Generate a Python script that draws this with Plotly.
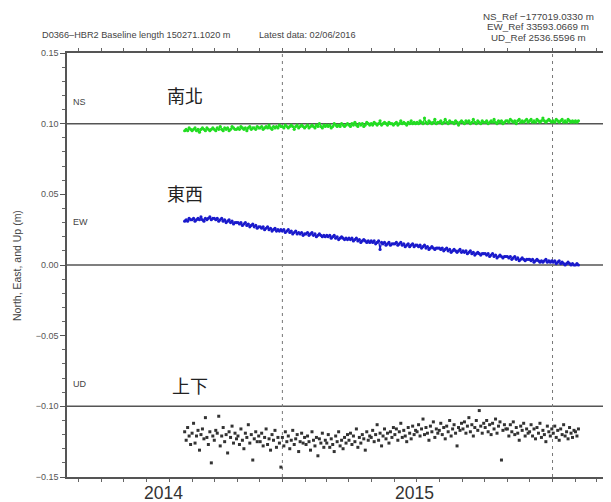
import pandas as pd
import plotly.graph_objects as go

# ---------------- data (values in millimetres) ----------------
start_date = "2014-08-22"          # first daily solution (every 2nd day shown)
latest_date = "02/06/2016"

ns_mm = [
    95, 96, 95, 97, 96,
    95, 96, 97, 95, 96, 94, 96, 97, 96, 95, 97, 96, 95, 96, 97,
    96, 95, 97, 96, 98, 96, 95, 97, 96, 97, 95, 96, 98, 97, 96, 96,
    97, 96, 98, 97, 96, 97, 95, 97, 98, 96, 97, 97, 96, 98, 97,
    97, 98, 96, 97, 98, 97, 99, 97, 96, 98, 97, 98, 97, 99, 98,
    98, 97, 99, 98, 97, 98, 99, 98, 96, 98, 99, 97, 98, 99, 98, 97,
    98, 99, 97, 98, 99, 98, 97, 99, 98, 100, 98, 97, 99, 98,
    99, 98, 99, 97, 98, 100, 99, 98, 99, 98, 100, 99, 98, 99, 100,
    99, 98, 100, 99, 101, 99, 98, 100, 99, 100, 98, 99, 101, 100, 99,
    100, 99, 101, 100, 99, 100, 102, 99, 100, 101, 100, 99, 101, 100, 100, 99,
    100, 101, 99, 100, 102, 100, 101, 100, 99, 101, 100, 102, 100, 101, 100,
    101, 100, 102, 101, 100, 104, 101, 100, 102, 101, 100, 101, 103, 100, 101,
    101, 102, 100, 101, 103, 101, 100, 102, 101, 101, 100, 102, 101, 99, 101, 102,
    101, 100, 102, 101, 102, 100, 101, 103, 101, 100, 102, 101, 100, 102, 101,
    101, 102, 100, 101, 102, 101, 103, 101, 100, 102, 101, 102, 100, 101, 102,
    102, 101, 103, 102, 101, 102, 100, 102, 103, 101, 102, 101, 102, 103, 101,
    102, 103, 101, 102, 101, 103, 102, 101, 102, 104, 102, 101, 102, 103, 102, 101,
    102, 101, 103, 102, 101, 102, 103, 101, 102, 101, 103, 102, 101, 102, 101,
    102, 101, 102,
]

ew_mm = [
    31, 32, 31, 33, 32,
    32, 33, 31, 32, 33, 32, 34, 32, 31, 33, 32, 33, 34, 32, 33,
    33, 32, 33, 31, 32, 33, 31, 32, 30, 31, 32, 30, 31, 29, 30, 30,
    30, 29, 30, 28, 29, 30, 28, 29, 27, 28, 29, 27, 28, 26, 27,
    27, 26, 27, 25, 26, 27, 25, 26, 24, 25, 26, 24, 25, 24, 25,
    24, 25, 23, 24, 25, 23, 24, 22, 23, 24, 22, 23, 22, 23, 21, 22,
    22, 23, 21, 22, 23, 21, 22, 20, 21, 22, 21, 20, 21, 20,
    21, 20, 21, 19, 20, 21, 19, 20, 18, 19, 20, 19, 18, 19, 18,
    19, 18, 19, 17, 18, 19, 17, 18, 16, 17, 18, 17, 16, 17, 16,
    17, 16, 17, 15, 16, 17, 11, 16, 15, 16, 14, 15, 16, 14, 15, 15,
    15, 16, 14, 15, 16, 14, 15, 13, 14, 15, 13, 14, 15, 13, 14,
    14, 13, 14, 12, 13, 14, 12, 13, 11, 12, 13, 12, 11, 12, 12,
    12, 11, 12, 10, 11, 12, 10, 11, 9, 10, 11, 10, 9, 10, 11, 9,
    10, 9, 10, 8, 9, 10, 8, 9, 7, 8, 9, 8, 7, 8, 8,
    8, 7, 8, 6, 7, 8, 6, 7, 5, 6, 7, 6, 5, 6, 6,
    6, 5, 6, 4, 5, 6, 4, 5, 3, 4, 5, 4, 3, 4, 4,
    4, 3, 4, 2, 3, 4, 3, 2, 3, 2, 3, 4, 2, 3, 2, 3,
    2, 3, 1, 2, 3, 1, 2, 1, 0, 1, 2, 1, 0, 1, 0,
    0, 1, 0,
]

ud_mm = [
    -118, -124, -115, -121, -127,
    -119, -112, -126, -121, -117, -131, -120, -116, -123, -108, -122, -127, -118, -140, -121,
    -124, -117, -119, -107, -128, -121, -115, -125, -120, -133, -118, -122, -114, -126, -119, -123,
    -121, -127, -116, -124, -130, -119, -122, -113, -126, -120, -138, -123, -118, -125, -121,
    -125, -119, -128, -122, -116, -127, -123, -131, -120, -124, -117, -129, -122, -126, -143,
    -122, -128, -118, -125, -121, -130, -124, -117, -127, -123, -120, -132, -125, -119, -126, -122,
    -127, -121, -125, -131, -118, -124, -128, -122, -135, -123, -126, -119, -129, -124,
    -126, -120, -129, -123, -127, -132, -121, -125, -118, -128, -124, -130, -122, -126, -120,
    -124, -119, -127, -121, -125, -116, -129, -122, -126, -120, -123, -131, -118, -124, -121,
    -122, -117, -125, -120, -113, -124, -119, -128, -121, -116, -123, -119, -126, -118, -122, -115,
    -120, -116, -124, -118, -112, -122, -117, -121, -125, -115, -119, -123, -114, -120, -117,
    -118, -113, -121, -116, -109, -120, -115, -119, -124, -114, -118, -111, -122, -116, -119,
    -117, -112, -120, -115, -123, -114, -118, -110, -121, -116, -113, -119, -128, -115, -117, -112,
    -116, -111, -119, -114, -108, -118, -113, -121, -115, -110, -117, -103, -114, -119, -112,
    -115, -110, -118, -113, -120, -112, -116, -109, -119, -114, -111, -138, -117, -113, -116,
    -116, -121, -113, -118, -111, -120, -115, -119, -124, -114, -117, -112, -121, -116, -119,
    -118, -113, -121, -116, -123, -115, -119, -112, -122, -117, -120, -125, -114, -118, -121, -116,
    -119, -114, -122, -117, -124, -116, -120, -113, -121, -118, -123, -115, -119, -122, -117,
    -118, -121, -116,
]

ref_lines = [0.10, 0.00, -0.10]
year_marks = ["2015-01-01", "2016-01-01"]
year_labels = ["2014", "2015"]
year_label_pos = ["2014-07-24", "2015-06-28"]
y_ticks = [0.15, 0.10, 0.05, 0.00, -0.05, -0.10, -0.15]

header_left = "D0366\u2013HBR2 Baseline length 150271.1020 m"
header_mid = "Latest data: " + latest_date
ref_texts = ["NS_Ref \u2212177019.0330 m", "EW_Ref 33593.0669 m", "UD_Ref 2536.5596 m"]

# ---------------- figure ----------------
FONT = "Liberation Sans, Arial, sans-serif"
CJK = "Noto Sans CJK TC, Noto Sans CJK JP, sans-serif"
OFF = 8                       # page body margin of the html page
W, H = 611 - OFF, 502 - OFF
# plot box in page pixels: left 67, right 611, top 53, bottom 477
ML, MR, MT, MB = 67 - OFF, 0, 53 - OFF, 502 - 477
PW, PH = W - ML - MR, H - MT - MB


def px(xpage):
    return (xpage - OFF - ML) / PW


def py(ypage):
    return (H - MB - (ypage - OFF)) / PH


def dates_for(vals):
    return pd.date_range(start_date, periods=len(vals), freq="2D")


fig = go.Figure()
fig.add_trace(go.Scatter(
    x=dates_for(ns_mm), y=[v / 1000 for v in ns_mm], mode="lines+markers",
    line=dict(color="#22dd22", width=1.3), marker=dict(color="#22dd22", size=3.2),
    showlegend=False, hoverinfo="skip"))
fig.add_trace(go.Scatter(
    x=dates_for(ew_mm), y=[v / 1000 for v in ew_mm], mode="lines+markers",
    line=dict(color="#1a1acc", width=1.3), marker=dict(color="#1a1acc", size=3.2),
    showlegend=False, hoverinfo="skip"))
fig.add_trace(go.Scatter(
    x=dates_for(ud_mm), y=[v / 1000 for v in ud_mm], mode="markers",
    marker=dict(color="#333333", size=3, symbol="square"),
    showlegend=False, hoverinfo="skip"))

for yv in ref_lines:
    fig.add_shape(type="line", xref="paper", x0=0, x1=1, yref="y", y0=yv, y1=yv,
                  line=dict(color="#555555", width=1.5), layer="below")
for d in year_marks:
    fig.add_shape(type="line", xref="x", x0=d, x1=d, yref="paper", y0=0, y1=1,
                  line=dict(color="#777777", width=1, dash="3px,4px"), layer="below")

hdr = dict(family=FONT, size=9.2, color="#444444")
reff = dict(family=FONT, size=9.8, color="#444444")
lab = dict(family=FONT, size=9, color="#444444")
fig.add_annotation(text=header_left, xref="paper", yref="paper", x=px(40), y=py(35),
                   xanchor="left", yanchor="middle", showarrow=False, font=hdr)
fig.add_annotation(text=header_mid, xref="paper", yref="paper", x=px(257), y=py(35),
                   xanchor="left", yanchor="middle", showarrow=False, font=hdr)
for t, yy in zip(ref_texts, [16, 26.5, 37]):
    fig.add_annotation(text=t, xref="paper", yref="paper", x=px(538), y=py(yy),
                       xanchor="center", yanchor="middle", showarrow=False, font=reff)

for t, yy in zip(["NS", "EW", "UD"], [102, 222, 384]):
    fig.add_annotation(text=t, xref="paper", yref="paper", x=px(71), y=py(yy),
                       xanchor="left", yanchor="middle", showarrow=False, font=lab)

for t, xx, yy in zip(["南北", "東西", "上下"], [165, 165, 170], [95, 193, 385]):
    fig.add_annotation(text=t, xref="paper", yref="paper", x=px(xx), y=py(yy),
                       xanchor="left", yanchor="middle", showarrow=False,
                       font=dict(family=CJK, size=18, color="#222222"))

for t, d in zip(year_labels, year_label_pos):
    fig.add_annotation(text=t, xref="x", yref="paper", x=d, y=py(493),
                       xanchor="center", yanchor="middle", showarrow=False,
                       font=dict(family=FONT, size=17.5, color="#333333"))

fig.add_annotation(text="North, East, and Up (m)", xref="paper", yref="paper",
                   x=px(17), y=py(266), textangle=-90,
                   xanchor="center", yanchor="middle", showarrow=False,
                   font=dict(family=FONT, size=10.5, color="#444444"))

fig.update_layout(
    width=W, height=H, margin=dict(l=ML, r=MR, t=MT, b=MB),
    paper_bgcolor="white", plot_bgcolor="white",
    xaxis=dict(type="date", range=["2014-03-16", "2016-03-20"], showgrid=False, zeroline=False,
               showline=True, linecolor="#555555", linewidth=1.5, mirror="allticks",
               ticks="outside", ticklen=3, tickcolor="#666666", dtick="M1",
               tick0="2014-01-01", showticklabels=False),
    yaxis=dict(range=[-0.15, 0.15], showgrid=False, zeroline=False, showline=True,
               linecolor="#555555", linewidth=1.5, ticks="outside", ticklen=5,
               tickcolor="#555555", tickvals=y_ticks,
               ticktext=[f"{v:.2f}".replace("-", "\u2212") for v in y_ticks],
               tickfont=dict(family=FONT, size=9, color="#555555"),
               minor=dict(dtick=0.01, tick0=0, ticks="outside", ticklen=3, tickcolor="#666666")),
)

fig.write_html("out.html")
